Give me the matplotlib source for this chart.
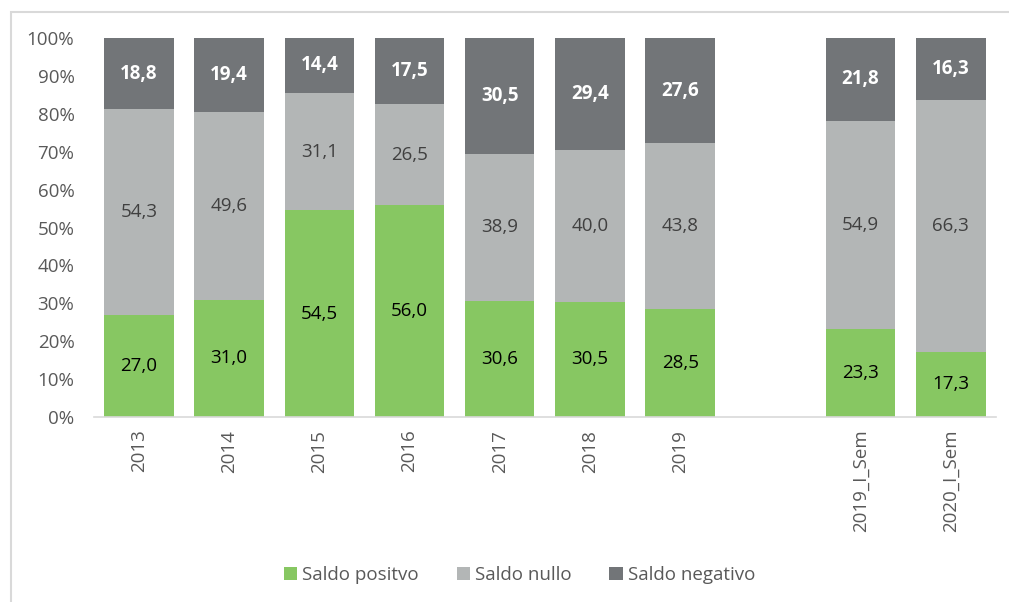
import numpy as np
import matplotlib.pyplot as plt
from matplotlib.patches import Rectangle

# dati (percentuali)
periodi = ['2013', '2014', '2015', '2016', '2017', '2018', '2019', '2019_I_Sem', '2020_I_Sem']
positivo = [27.0, 31.0, 54.5, 56.0, 30.6, 30.5, 28.5, 23.3, 17.3]
nullo = [54.3, 49.6, 31.1, 26.5, 38.9, 40.0, 43.8, 54.9, 66.3]
negativo = [18.8, 19.4, 14.4, 17.5, 30.5, 29.4, 27.6, 21.8, 16.3]

col_pos = '#87c762'
col_nul = '#b3b6b6'
col_neg = '#727578'

plt.rcParams['font.family'] = ['Open Sans', 'DejaVu Sans']

fig = plt.figure(figsize=(10.09, 6.02), dpi=100)
ax = fig.add_axes([0.093, 0.307, 0.894, 0.63])

# i semestri sono separati da uno spazio vuoto
x = np.array([0, 1, 2, 3, 4, 5, 6, 8, 9])
pos = np.array(positivo)
nul = np.array(nullo)
neg = np.array(negativo)
w = 0.77

ax.bar(x, pos, w, color=col_pos, label='Saldo positvo')
ax.bar(x, nul, w, bottom=pos, color=col_nul, label='Saldo nullo')
ax.bar(x, neg, w, bottom=pos + nul, color=col_neg, label='Saldo negativo')

for i in range(len(x)):
    ax.text(x[i], pos[i] / 2, f'{positivo[i]:.1f}'.replace('.', ','),
            ha='center', va='center', fontsize=13.5, color='black')
    ax.text(x[i], pos[i] + nul[i] / 2, f'{nullo[i]:.1f}'.replace('.', ','),
            ha='center', va='center', fontsize=13.5, color='#404040')
    ax.text(x[i], min(pos[i] + nul[i] + neg[i] / 2, 100 - neg[i] / 2),
            f'{negativo[i]:.1f}'.replace('.', ','),
            ha='center', va='center', fontsize=13.5, color='white', fontweight='bold')

ax.set_xlim(-0.5, 9.5)
ax.set_ylim(0, 100)
ax.set_yticks(np.arange(0, 101, 10))
ax.set_yticklabels([f'{v}%' for v in range(0, 101, 10)])
ax.set_xticks(x)
ax.set_xticklabels(periodi, rotation=90)
ax.tick_params(axis='both', length=0, labelsize=13.5, colors='#595959')
ax.tick_params(axis='x', pad=9)
ax.tick_params(axis='y', pad=14)
for s in ['top', 'right', 'left']:
    ax.spines[s].set_visible(False)
ax.spines['bottom'].set_color('#d9d9d9')
ax.spines['bottom'].set_linewidth(1.2)

leg = fig.legend(loc='center', bbox_to_anchor=(0.515, 0.045), ncol=3, frameon=False,
                 fontsize=13.5, handlelength=0.7, handleheight=0.7, handletextpad=0.3,
                 columnspacing=2.0)
for t in leg.get_texts():
    t.set_color('#595959')

# cornice del grafico
fig.patches.append(Rectangle((0.011, -0.05), 1.1, 1.03, transform=fig.transFigure,
                             fill=False, edgecolor='#d9d9d9', linewidth=1.5, clip_on=False))

fig.savefig('out.png', dpi=100)
